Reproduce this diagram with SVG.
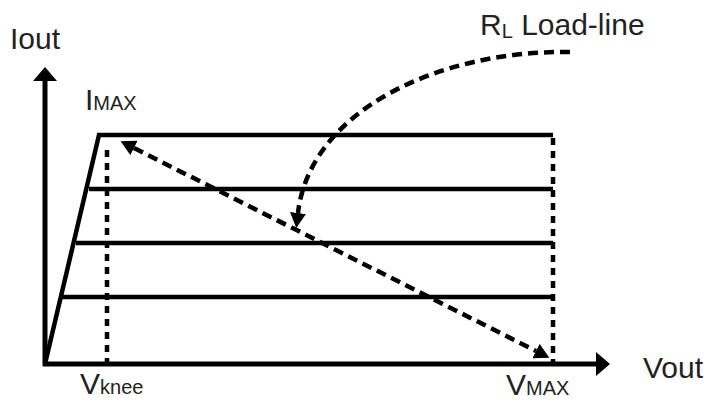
<svg xmlns="http://www.w3.org/2000/svg" width="718" height="409" viewBox="0 0 718 409">
<style>
.lbl{font-family:"Liberation Sans",Arial,sans-serif;font-size:30px;fill:#222}
.sub{font-size:20px}
.solid{fill:none;stroke:#000;stroke-width:4.5;stroke-linejoin:miter}
.axis{fill:none;stroke:#000;stroke-width:5}
.dash{fill:none;stroke:#000;stroke-width:4.5;stroke-dasharray:10,6}
.dash2{fill:none;stroke:#000;stroke-width:4.5;stroke-dasharray:7,6}
</style>
<defs>
<marker id="ax" viewBox="0 0 14 24" refX="0" refY="12" markerWidth="14" markerHeight="24" orient="auto" markerUnits="userSpaceOnUse">
<path d="M0,0 L14,12 L0,24 Z" fill="#000"/>
</marker>
<marker id="da" viewBox="0 0 15 16" refX="0" refY="8" markerWidth="15" markerHeight="16" orient="auto-start-reverse" markerUnits="userSpaceOnUse">
<path d="M0,0 L15,8 L0,16 Z" fill="#000"/>
</marker>
</defs>
<g id="axes">
<line class="axis" x1="45" y1="366" x2="45" y2="81" marker-end="url(#ax)"/>
<line class="axis" x1="43" y1="364" x2="596" y2="364" marker-end="url(#ax)"/>
</g>
<g id="curves">
<path class="solid" d="M45,364 L99,135 L553,135"/>
<line class="solid" x1="89" y1="189" x2="553" y2="189"/>
<line class="solid" x1="76" y1="243" x2="553" y2="243"/>
<line class="solid" x1="62" y1="297" x2="553" y2="297"/>
</g>
<g id="connectors">
<line class="dash2" x1="107" y1="150" x2="107" y2="362"/>
<line class="dash2" x1="553" y1="138" x2="553" y2="362"/>
<line class="dash" x1="134" y1="148" x2="536" y2="351" marker-start="url(#da)" marker-end="url(#da)"/>
<path class="dash" d="M570,52 C440,50 310,110 298,213" marker-end="url(#da)"/>
</g>
<g id="labels">
<text class="lbl" x="10" y="49">Iout</text>
<text class="lbl" x="85" y="110">I<tspan class="sub">MAX</tspan></text>
<text class="lbl" x="80" y="394">V<tspan class="sub">knee</tspan></text>
<text class="lbl" x="506" y="395">V<tspan class="sub">MAX</tspan></text>
<text class="lbl" x="643" y="378">Vout</text>
<text class="lbl" x="480" y="35">R<tspan class="sub" dy="3">L</tspan><tspan dy="-3"> Load-line</tspan></text>
</g>
</svg>
